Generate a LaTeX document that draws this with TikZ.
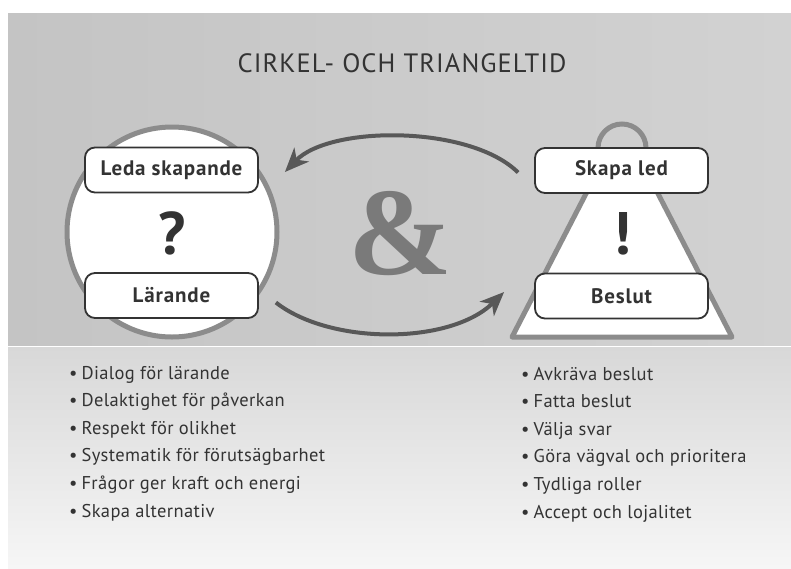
\documentclass[tikz,border=0pt]{standalone}
\usepackage{fontspec}
\setmainfont{PT Sans}
\newfontfamily\ampfont{Liberation Serif}
\newfontfamily\titlefont[LetterSpace=4]{PT Sans}
\newfontfamily\boxfont[LetterSpace=4]{PT Sans}
\newfontfamily\listfont[LetterSpace=2]{PT Sans}
\usetikzlibrary{arrows.meta}
\definecolor{bgA}{HTML}{C4C4C4}
\definecolor{bgB}{HTML}{D2D2D2}
\definecolor{lowA}{HTML}{D8D8D8}
\definecolor{lowB}{HTML}{F6F6F6}
\definecolor{ringc}{HTML}{8C8C8C}
\definecolor{arrc}{HTML}{585858}
\definecolor{txt}{HTML}{333333}
\definecolor{ampc}{HTML}{7A7A7A}
\begin{document}
\begin{tikzpicture}[x=1pt,y=-1pt,
  lbl/.style={draw=txt, line width=1.8pt, fill=white, rounded corners=10pt,
    minimum width=173pt, minimum height=45pt, inner sep=0pt, text=txt,
    font=\boxfont\bfseries\fontsize{21}{21}\selectfont},
  shapeline/.style={draw=ringc, line width=5pt},
  arr/.style={draw=arrc, line width=4pt, -{Stealth[length=24pt,width=20pt,inset=7pt]}},
  item/.style={anchor=base west, inner sep=0pt, text=txt, font=\listfont\fontsize{18.5}{18.5}\selectfont},
  bigmark/.style={text=txt, inner sep=0pt, font=\bfseries\fontsize{60}{60}\selectfont}]
% background
\fill[white] (0,0) rectangle (791,568);
\useasboundingbox (0,0) rectangle (791,568);
\shade[left color=bgA, right color=bgB] (8,13) rectangle (791,346);
\shade[top color=lowA, bottom color=lowB] (8,347) rectangle (791,568);
\draw[white, line width=1.5pt] (8,346.5) -- (791,346.5);
% title
\node[text=txt, inner sep=0pt, font=\titlefont\fontsize{26.5}{26.5}\selectfont] (title) at (402,63) {CIRKEL- OCH TRIANGELTID};
% circle
\node[circle, shapeline, fill=white, minimum size=210pt] (circ) at (172,232) {};
% triangle with ring
\filldraw[shapeline, fill=white, line join=round] (512,337) -- (598.2,170) -- (645.8,170) -- (732,337) -- cycle;
\node[circle, shapeline, minimum size=48pt, inner sep=0pt] (ring) at (622,148) {};
% ampersand
\node[text=ampc, inner sep=0pt, font=\ampfont\bfseries\fontsize{125}{125}\selectfont] (amp) at (401,234) {\&};
% boxes
\node[lbl] (leda) at (171.5,170) {Leda skapande};
\node[lbl] (lar) at (171.5,295.5) {Lärande};
\node[lbl] (skapa) at (621.5,170.5) {Skapa led};
\node[lbl] (beslut) at (621.5,296) {Beslut};
\node[bigmark] (q) at (172,233) {?};
\node[bigmark] (ex) at (622,234) {!};
% arrows
\draw[arr] ([shift={(-16,2)}]skapa.west) .. controls (470,125) and (330,125) .. ([shift={(26,2)}]leda.east);
\draw[arr] ([shift={(17,7)}]lar.east) .. controls (330,345) and (450,345) .. ([shift={(-30,-4)}]beslut.west);
% lists
\node[item] (l1) at (69,379) {\textbullet\hspace{4pt}Dialog för lärande};
\node[item] (l2) at (69,406.6) {\textbullet\hspace{4pt}Delaktighet för påverkan};
\node[item] (l3) at (69,434.2) {\textbullet\hspace{4pt}Respekt för olikhet};
\node[item] (l4) at (69,461.8) {\textbullet\hspace{4pt}Systematik för förutsägbarhet};
\node[item] (l5) at (69,489.4) {\textbullet\hspace{4pt}Frågor ger kraft och energi};
\node[item] (l6) at (69,517) {\textbullet\hspace{4pt}Skapa alternativ};
\node[item] (r1) at (521,380) {\textbullet\hspace{4pt}Avkräva beslut};
\node[item] (r2) at (521,407.6) {\textbullet\hspace{4pt}Fatta beslut};
\node[item] (r3) at (521,435.2) {\textbullet\hspace{4pt}Välja svar};
\node[item] (r4) at (521,462.8) {\textbullet\hspace{4pt}Göra vägval och prioritera};
\node[item] (r5) at (521,490.4) {\textbullet\hspace{4pt}Tydliga roller};
\node[item] (r6) at (521,518) {\textbullet\hspace{4pt}Accept och lojalitet};
\end{tikzpicture}
\end{document}
